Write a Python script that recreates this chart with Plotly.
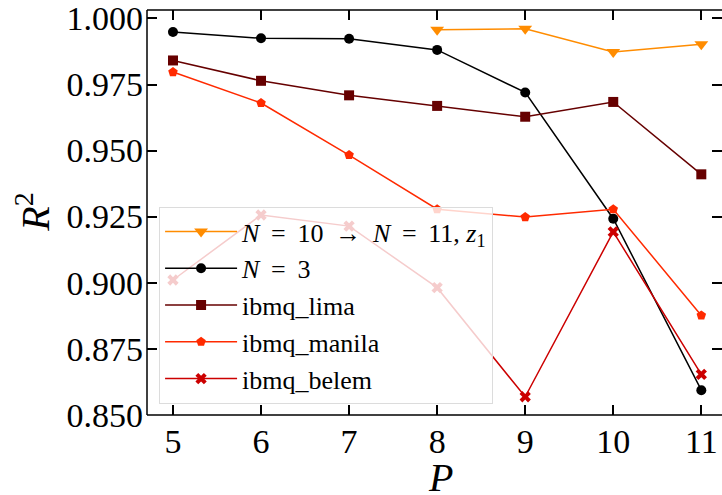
import plotly.graph_objects as go

P_all = [5, 6, 7, 8, 9, 10, 11]
P_z1 = [8, 9, 10, 11]

r2_z1 = [0.9957, 0.9961, 0.9873, 0.9902]
r2_n3 = [0.9949, 0.9925, 0.9923, 0.9881, 0.9720, 0.9242, 0.8593]
r2_lima = [0.9841, 0.9764, 0.9709, 0.9669, 0.9628, 0.9684, 0.9410]
r2_manila = [0.9797, 0.9680, 0.9483, 0.9278, 0.9248, 0.9278, 0.8876]
r2_belem = [0.9010, 0.9256, 0.9214, 0.8981, 0.8568, 0.9192, 0.8653]

x_ticks = [5, 6, 7, 8, 9, 10, 11]
y_ticks = [0.850, 0.875, 0.900, 0.925, 0.950, 0.975, 1.000]
y_tick_labels = ["0.850", "0.875", "0.900", "0.925", "0.950", "0.975", "1.000"]

FONT = "Liberation Serif"
SP = "\u00a0\u2009"

fig = go.Figure()
series = [
    (P_z1, r2_z1, f"<i>N</i>{SP}={SP}10{SP}→{SP}<i>N</i>{SP}={SP}11,\u00a0<i>z</i><sub>1</sub>",
     "#ff8c00", "triangle-down", 12),
    (P_all, r2_n3, f"<i>N</i>{SP}={SP}3", "#000000", "circle", 10),
    (P_all, r2_lima, "ibmq_lima", "#660000", "square", 10),
    (P_all, r2_manila, "ibmq_manila", "#ff2a00", "pentagon", 10),
    (P_all, r2_belem, "ibmq_belem", "#cc0000", "x", 10),
]
for xs, ys, name, color, sym, size in series:
    fig.add_trace(go.Scatter(
        x=xs, y=ys, name=name, mode="lines+markers",
        line=dict(color=color, width=1.5),
        marker=dict(symbol=sym, size=size, color=color, line=dict(width=0)),
    ))

axis_common = dict(
    showline=False, mirror="ticks", ticks="inside", ticklen=10, tickwidth=2,
    tickcolor="black", showgrid=False, zeroline=False, automargin=False,
    tickfont=dict(family=FONT, size=34, color="black"),
)
fig.update_xaxes(range=[4.705, 11.235], tickvals=x_ticks, ticklabelstandoff=3, **axis_common)
fig.update_yaxes(range=[0.8499, 1.0032], tickvals=y_ticks, ticktext=y_tick_labels,
                 ticklabelstandoff=3, **axis_common)

# spines (left, top, bottom)
for x0, y0, x1, y1 in [(0, 0, 0, 1), (0, 1, 1, 1), (0, 0, 1, 0)]:
    fig.add_shape(type="line", xref="paper", yref="paper", x0=x0, y0=y0, x1=x1, y1=y1,
                  line=dict(color="black", width=1.5))

fig.add_annotation(text="<i>P</i>", xref="paper", yref="paper", x=0.51, y=-0.152,
                   showarrow=False, font=dict(family=FONT, size=40, color="black"),
                   xanchor="center", yanchor="middle", height=32, valign="middle")
fig.add_annotation(text="<i>R</i><sup>2</sup>", xref="paper", yref="paper", x=-0.198, y=0.5,
                   textangle=-90, showarrow=False, font=dict(family=FONT, size=40, color="black"),
                   xanchor="center", yanchor="middle")

fig.update_layout(
    width=722, height=495,
    margin=dict(l=147, r=0, t=10, b=80),
    plot_bgcolor="white", paper_bgcolor="white",
    legend=dict(x=0.021, y=0.5136, xanchor="left", yanchor="top",
                bgcolor="rgba(255,255,255,0.8)", bordercolor="#dcdcdc", borderwidth=1,
                font=dict(family=FONT, size=26, color="black"), itemwidth=72,
                tracegroupgap=0),
    showlegend=True,
)

fig.write_html("out.html", config={"displayModeBar": False},
               post_script="document.body.style.margin='0';document.body.style.overflow='hidden';")
